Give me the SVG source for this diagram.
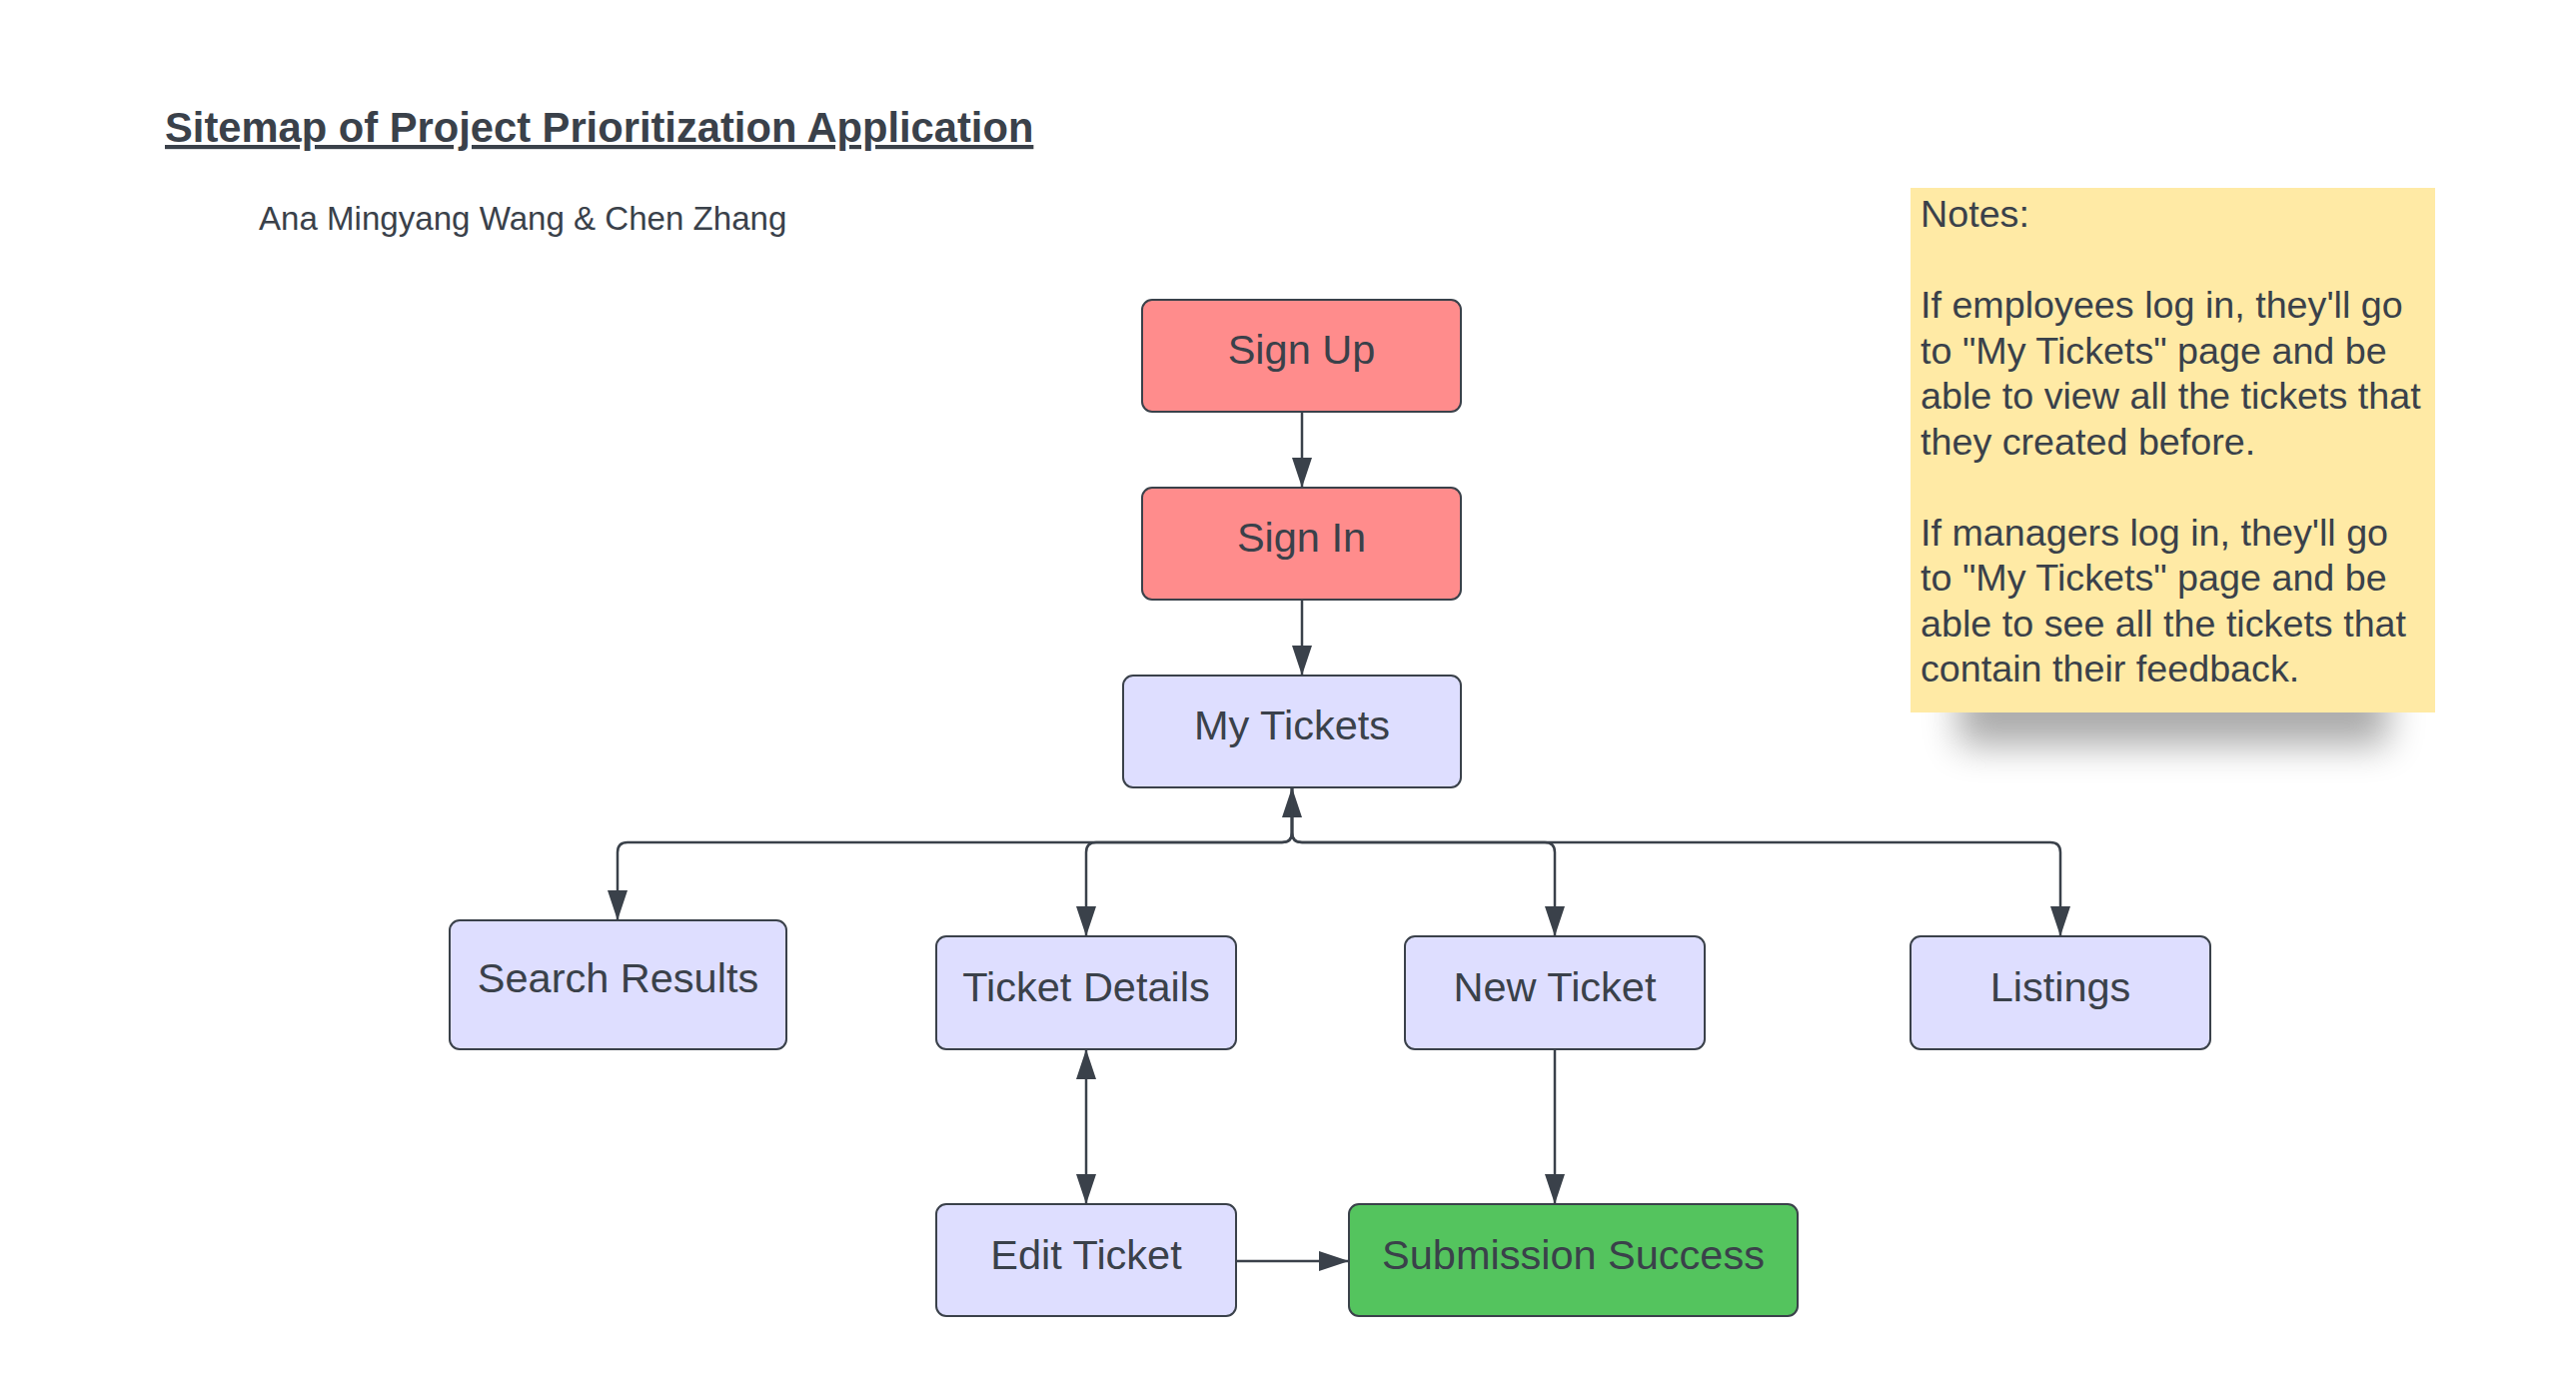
<svg xmlns="http://www.w3.org/2000/svg" width="2578" height="1393" viewBox="0 0 2578 1393">
  <style>
    .box { stroke: #3a414a; stroke-width: 2; }
    .red { fill: #ff8c8c; }
    .lav { fill: #dedeff; }
    .green { fill: #54c45e; }
    .lbl { font-family: "Liberation Sans", Arial, sans-serif; font-size: 41.5px; fill: #3a414a; text-anchor: middle; }
    .conn { fill: none; stroke: #3a414a; stroke-width: 2.5; }
    .note { font-family: "Liberation Sans", Arial, sans-serif; font-size: 37.7px; fill: #3a414a; }
  </style>
  <defs>
    <marker id="arrow" markerUnits="userSpaceOnUse" markerWidth="30" markerHeight="20" refX="30" refY="10" orient="auto-start-reverse" viewBox="0 0 30 20">
      <path d="M0,0 L30,10 L0,20 Z" fill="#3a414a"/>
    </marker>
    <filter id="shadowBlur" x="-20%" y="-60%" width="140%" height="220%">
      <feGaussianBlur stdDeviation="18"/>
    </filter>
  </defs>
  <rect x="0" y="0" width="2578" height="1393" fill="#ffffff"/>

  <g id="title">
    <text x="165" y="142" font-family="'Liberation Sans', Arial, sans-serif" font-size="41.7" font-weight="bold" fill="#3a414a" text-decoration="underline">Sitemap of Project Prioritization Application</text>
    <text x="259" y="230" font-family="'Liberation Sans', Arial, sans-serif" font-size="33.1" fill="#3a414a">Ana Mingyang Wang &amp; Chen Zhang</text>
  </g>

  <g id="notes">
    <rect x="1960" y="680" width="430" height="66" fill="#000000" opacity="0.33" filter="url(#shadowBlur)"/>
    <rect x="1912" y="188" width="525" height="525" fill="#ffeaa5"/>
    <text class="note" x="1922" y="227">Notes:</text>
    <text class="note" x="1922" y="318">If employees log in, they'll go</text>
    <text class="note" x="1922" y="363.5">to "My Tickets" page and be</text>
    <text class="note" x="1922" y="409">able to view all the tickets that</text>
    <text class="note" x="1922" y="454.5">they created before.</text>
    <text class="note" x="1922" y="545.5">If managers log in, they'll go</text>
    <text class="note" x="1922" y="591">to "My Tickets" page and be</text>
    <text class="note" x="1922" y="636.5">able to see all the tickets that</text>
    <text class="note" x="1922" y="682">contain their feedback.</text>
  </g>

  <g id="connectors">
    <path class="conn" d="M1303,412 L1303,488" marker-end="url(#arrow)"/>
    <path class="conn" d="M1303,600 L1303,676" marker-end="url(#arrow)"/>
    <path class="conn" d="M1293,788 L1293,833 Q1293,843 1283,843 L628,843 Q618,843 618,853 L618,921" marker-start="url(#arrow)" marker-end="url(#arrow)"/>
    <path class="conn" d="M1293,788 L1293,833 Q1293,843 1283,843 L1097,843 Q1087,843 1087,853 L1087,937" marker-end="url(#arrow)"/>
    <path class="conn" d="M1293,788 L1293,833 Q1293,843 1303,843 L1546,843 Q1556,843 1556,853 L1556,937" marker-end="url(#arrow)"/>
    <path class="conn" d="M1293,788 L1293,833 Q1293,843 1303,843 L2052,843 Q2062,843 2062,853 L2062,937" marker-end="url(#arrow)"/>
    <path class="conn" d="M1087,1050 L1087,1205" marker-start="url(#arrow)" marker-end="url(#arrow)"/>
    <path class="conn" d="M1556,1050 L1556,1205" marker-end="url(#arrow)"/>
    <path class="conn" d="M1237,1262 L1350,1262" marker-end="url(#arrow)"/>
  </g>

  <g id="sign-up">
    <rect class="box red" x="1143" y="300" width="319" height="112" rx="10"/>
    <text class="lbl" x="1302.5" y="364">Sign Up</text>
  </g>
  <g id="sign-in">
    <rect class="box red" x="1143" y="488" width="319" height="112" rx="10"/>
    <text class="lbl" x="1302.5" y="552">Sign In</text>
  </g>
  <g id="my-tickets">
    <rect class="box lav" x="1124" y="676" width="338" height="112" rx="10"/>
    <text class="lbl" x="1293" y="740">My Tickets</text>
  </g>
  <g id="search-results">
    <rect class="box lav" x="450" y="921" width="337" height="129" rx="10"/>
    <text class="lbl" x="618.5" y="993">Search Results</text>
  </g>
  <g id="ticket-details">
    <rect class="box lav" x="937" y="937" width="300" height="113" rx="10"/>
    <text class="lbl" x="1087" y="1002">Ticket Details</text>
  </g>
  <g id="new-ticket">
    <rect class="box lav" x="1406" y="937" width="300" height="113" rx="10"/>
    <text class="lbl" x="1556" y="1002">New Ticket</text>
  </g>
  <g id="listings">
    <rect class="box lav" x="1912" y="937" width="300" height="113" rx="10"/>
    <text class="lbl" x="2062" y="1002">Listings</text>
  </g>
  <g id="edit-ticket">
    <rect class="box lav" x="937" y="1205" width="300" height="112" rx="10"/>
    <text class="lbl" x="1087" y="1270">Edit Ticket</text>
  </g>
  <g id="submission-success">
    <rect class="box green" x="1350" y="1205" width="449" height="112" rx="10"/>
    <text class="lbl" x="1574.5" y="1270">Submission Success</text>
  </g>
</svg>
